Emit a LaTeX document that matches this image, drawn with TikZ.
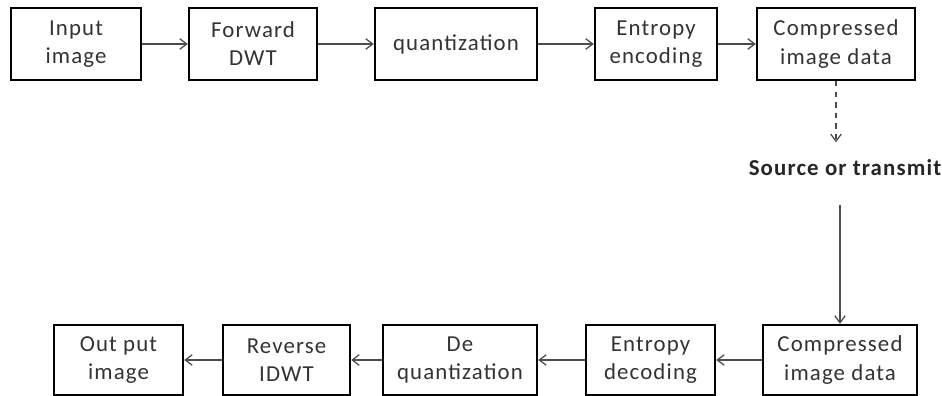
\documentclass[tikz,border=0pt]{standalone}
\usepackage{fontspec}
\setmainfont{Carlito}[LetterSpace=5]
\usetikzlibrary{positioning, arrows.meta}

\begin{document}
\begin{tikzpicture}[
  font=\fontsize{13}{16}\selectfont,
  stagebox/.style={draw=black, line width=1.4pt, fill=white, align=center,
    minimum height=1.44cm, inner sep=2pt, text=black!80},
  link/.style={-{Straight Barb[length=4pt, width=6pt]}, line width=0.7pt, draw=black!70},
  lbl/.style={font=\fontsize{13}{15}\selectfont\bfseries, text=black!85}
]
\useasboundingbox (0,0) rectangle (18.84,-7.92);

% --- Encoder (top row) ---
\node[stagebox, minimum width=2.6cm]  (in)    at (1.52,-0.88)  {Input\\image};
\node[stagebox, minimum width=2.56cm] (fwd)   at (5.06,-0.88)  {Forward\\DWT};
\node[stagebox, minimum width=3.24cm] (quant) at (9.12,-0.88)  {quantization};
\node[stagebox, minimum width=2.44cm] (enc)   at (13.12,-0.88) {Entropy\\encoding};
\node[stagebox, minimum width=3.16cm] (comp1) at (16.72,-0.88) {Compressed\\image data};

\draw[link] (in) -- (fwd);
\draw[link] (fwd) -- (quant);
\draw[link] (quant) -- (enc);
\draw[link] (enc) -- (comp1);

% --- Decoder (bottom row) ---
\node[stagebox, minimum width=3.08cm, minimum height=1.4cm] (comp2) at (16.8,-7.2)  {Compressed\\image data};
\node[stagebox, minimum width=2.58cm, minimum height=1.4cm] (dec)   at (13.01,-7.2) {Entropy\\decoding};
\node[stagebox, minimum width=3.08cm, minimum height=1.4cm] (deq)   at (9.2,-7.2)   {De\\quantization};
\node[stagebox, minimum width=2.54cm, minimum height=1.4cm] (rev)   at (5.73,-7.2)  {Reverse\\IDWT};
\node[stagebox, minimum width=2.58cm, minimum height=1.4cm] (out)   at (2.37,-7.2)  {Out put\\image};

\draw[link] (comp2) -- (dec);
\draw[link] (dec) -- (deq);
\draw[link] (deq) -- (rev);
\draw[link] (rev) -- (out);

% --- Channel ---
\node[lbl] (src) at (16.9,-3.36) {Source or transmit};
\draw[link, dashed] (comp1.south) -- ([yshift=2.3mm]src.north -| comp1.south);
\draw[link] ([yshift=-4.5mm]src.south -| comp2.north) -- (comp2.north);

\end{tikzpicture}
\end{document}
